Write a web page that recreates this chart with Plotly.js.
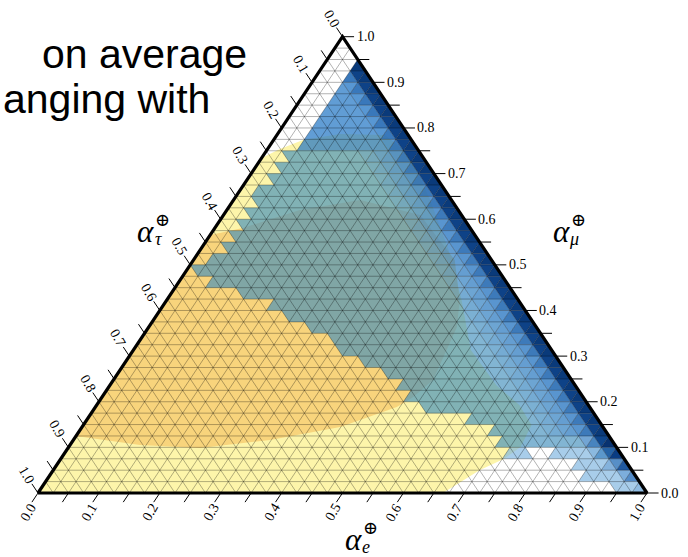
<!DOCTYPE html>
<html><head><meta charset="utf-8">
<script src="https://cdn.plot.ly/plotly-3.0.1.min.js"></script>
<style>body{margin:0;background:#fff}#chart{width:688px;height:557px}</style>
</head><body><div id="chart"></div>
<script>
// ---------------- data ----------------
const N = 40;                       // grid divisions per side
const majorTicks = [0,0.1,0.2,0.3,0.4,0.5,0.6,0.7,0.8,0.9,1.0];
const tickLabels = ['0.0','0.1','0.2','0.3','0.4','0.5','0.6','0.7','0.8','0.9','1.0'];
const minorTicks = [0.05,0.15,0.25,0.35,0.45,0.55,0.65,0.75,0.85,0.95];
const titleLines = ['on average','anging with'];
// smooth pale-yellow region (alpha_e, alpha_mu)
const paleE  = [0,0.0204,0.0483,0.1025,0.1775,0.2404,0.323,0.408,0.484,0.554,0.634,0.694,0.736,0.742,0.728,0.700,0.665,0];
const paleMu = [0.7342,0.7539,0.7736,0.7868,0.7846,0.7407,0.6421,0.5325,0.423,0.3134,0.2367,0.1929,0.149,0.1008,0.075,0.05,0,0];
// smooth orange region (alpha_e, alpha_mu)
const orangeE  = [0,0.046,0.120,0.208,0.323,0.429,0.481,0.506,0.525,0.511,0.495,0.424,0.323,0.217,0.115,0.0125,0];
const orangeMu = [0.5654,0.5808,0.6202,0.6421,0.6093,0.5106,0.4230,0.3638,0.2476,0.2104,0.1885,0.1446,0.1162,0.0986,0.1052,0.1227,0.1227];
// blue cells: first filled triangle index in each row (row 0 = bottom, alpha_mu from r/N)
const blueStart = [75,70,68,58,56,54,50,43,40,38,35,31,27,25,21,17,14,9,4,1,
                   2,3,3,3,3,3,2,3,3,3,4,4,4,4,4,4,4,4,99,99];
const holeRow = [3,3,3];
const holeK   = [61,62,63];
// blue shade levels, from the right edge inwards
const shadesBottom = [
  ['rgba(95,160,215,0.7)','rgba(122,178,222,0.65)'],
  ['rgba(40,110,185,0.8)','rgba(70,140,205,0.7)','rgba(122,178,222,0.65)'],
  ['rgba(20,80,155,0.95)','rgba(45,115,185,0.8)','rgba(80,145,205,0.7)','rgba(122,178,222,0.65)'],
  ['rgba(10,60,130,1)','rgba(25,90,160,0.95)','rgba(50,125,190,0.8)','rgba(90,155,210,0.7)','rgba(122,178,222,0.65)'],
  ['rgba(8,50,112,1)','rgba(15,70,140,1)','rgba(40,110,180,0.85)','rgba(60,130,195,0.72)','rgba(63,141,187,0.65)']
];
const shadesMain = ['rgba(10,58,122,1)','rgba(14,66,135,1)','rgba(40,108,178,0.9)','rgba(48,122,195,0.8)',
                    'rgba(52,128,195,0.76)','rgba(55,132,194,0.73)','rgba(58,136,192,0.7)','rgba(60,138,190,0.68)','rgba(63,141,187,0.65)'];
const shadesTop  = ['rgba(10,58,122,1)','rgba(14,66,135,1)','rgba(35,105,180,0.9)','rgba(30,115,195,0.74)','rgba(30,115,195,0.7)'];
const topFromRow = 30;

// ---------------- geometry helpers ----------------
const W = 688, H = 557, X0 = 38, X1 = 647, YB = 493, YT = 36.7;
const SX = X1 - X0, SY = YB - YT;
const tx = (e, mu) => e + mu / 2;      // ternary -> cartesian x
const ty = (e, mu) => mu;              // ternary -> cartesian y
const px2x = p => (p - X0) / SX;
const py2y = p => (YB - p) / SY;

const traces = [];
function region(E, M, color) {
  traces.push({type:'scatter', mode:'lines', x:E.map((e,i)=>tx(e,M[i])), y:E.map((e,i)=>ty(e,M[i])),
    fill:'toself', fillcolor:color, line:{width:0, color:color}, hoverinfo:'skip', showlegend:false});
}
region(paleE, paleMu, '#fdf5aa');
region(orangeE, orangeMu, '#f8d47c');

// blue cells
const groups = {};
for (let r = 0; r < N; r++) {
  const K = 2 * (N - r) - 1;
  for (let k = blueStart[r]; k < K; k++) {
    let hole = false;
    for (let h = 0; h < holeRow.length; h++) if (holeRow[h] === r && holeK[h] === k) hole = true;
    if (hole) continue;
    const d = K - 1 - k;
    const sh = r < shadesBottom.length ? shadesBottom[r] : (r >= topFromRow ? shadesTop : shadesMain);
    const col = sh[Math.min(d, sh.length - 1)];
    let v;
    if (k % 2 === 0) { const j = k / 2; v = [[j, r], [j + 1, r], [j, r + 1]]; }
    else { const j = (k - 1) / 2; v = [[j + 1, r], [j, r + 1], [j + 1, r + 1]]; }
    if (!groups[col]) groups[col] = {x: [], y: []};
    const g = groups[col];
    v.forEach(p => { g.x.push(tx(p[0] / N, p[1] / N)); g.y.push(ty(p[0] / N, p[1] / N)); });
    g.x.push(tx(v[0][0] / N, v[0][1] / N)); g.y.push(ty(v[0][0] / N, v[0][1] / N));
    g.x.push(null); g.y.push(null);
  }
}
Object.keys(groups).forEach(col => {
  traces.push({type:'scatter', mode:'lines', x:groups[col].x, y:groups[col].y, fill:'toself',
    fillcolor:col, line:{width:0, color:col}, hoverinfo:'skip', showlegend:false, connectgaps:false});
});

// grid
const gx = [], gy = [];
for (let i = 1; i < N; i++) {
  const f = i / N;
  gx.push(tx(0, f), tx(1 - f, f), null); gy.push(ty(0, f), ty(1 - f, f), null);
  gx.push(tx(f, 0), tx(f, 1 - f), null); gy.push(ty(f, 0), ty(f, 1 - f), null);
  gx.push(tx(1 - f, 0), tx(0, 1 - f), null); gy.push(ty(1 - f, 0), ty(0, 1 - f), null);
}
traces.push({type:'scatter', mode:'lines', x:gx, y:gy, line:{color:'rgba(0,0,0,0.3)', width:1}, hoverinfo:'skip', showlegend:false});

// ticks
const allTicks = majorTicks.concat(minorTicks);
const kx = [], ky = [];
const dl = 0.02;
allTicks.forEach(v => {
  kx.push(tx(v, 0), tx(v, 0) - dl / 2, null); ky.push(0, -dl, null);
  kx.push(tx(1 - v, v), tx(1 - v, v) + dl * 0.95, null); ky.push(v, v, null);
  kx.push(tx(0, 1 - v), tx(0, 1 - v) - dl / 2, null); ky.push(1 - v, 1 - v + dl, null);
});
traces.push({type:'scatter', mode:'lines', x:kx, y:ky, line:{color:'#000', width:1}, hoverinfo:'skip', showlegend:false});

// outline
traces.push({type:'scatter', mode:'lines', x:[0,1,0.5,0], y:[0,0,1,0], line:{color:'#000', width:3.2}, hoverinfo:'skip', showlegend:false});

// annotations
const ann = [];
const lf = {family:'Liberation Serif, DejaVu Serif, serif', size:14, color:'#000'};
majorTicks.forEach((v, i) => {
  const bx = X0 + SX * v, by = YB;
  ann.push({x:px2x(bx - 10), y:py2y(by + 19), text:tickLabels[i], textangle:-60, showarrow:false, font:lf, xanchor:'center', yanchor:'middle'});
  const rx = X1 - SX / 2 * v, ry = YB - SY * v;
  ann.push({x:px2x(rx + 12), y:py2y(ry), text:tickLabels[i], showarrow:false, font:lf, xanchor:'left', yanchor:'middle'});
  const lx = X0 + SX / 2 * (1 - v), ly = YB - SY * (1 - v);
  ann.push({x:px2x(lx - 11), y:py2y(ly - 18), text:tickLabels[i], textangle:60, showarrow:false, font:lf, xanchor:'center', yanchor:'middle'});
});
const af = {family:'Liberation Serif, DejaVu Serif, serif', size:31, color:'#000'};
const sf = {family:'Liberation Serif, DejaVu Serif, serif', size:18, color:'#000'};
function axTitle(ax, ay, sub) {
  ann.push({x:px2x(ax), y:py2y(ay), text:'<i>α</i>', showarrow:false, font:af, xanchor:'center', yanchor:'middle'});
  ann.push({x:px2x(ax + 17), y:py2y(ay - 11), text:'⊕', showarrow:false, font:sf, xanchor:'center', yanchor:'middle'});
  ann.push({x:px2x(ax + 13), y:py2y(ay + 8), text:'<i>' + sub + '</i>', showarrow:false, font:sf, xanchor:'center', yanchor:'middle'});
}
axTitle(145, 231, 'τ');
axTitle(561, 231, 'μ');
axTitle(353, 539, 'e');
const tf = {family:'Liberation Sans, Arial, sans-serif', size:41, color:'#000'};
ann.push({xref:'paper', yref:'paper', x:40 / W, y:1 - 54 / H, text:titleLines[0], showarrow:false, font:tf, xanchor:'left', yanchor:'middle'});
ann.push({xref:'paper', yref:'paper', x:0, xshift:1, y:1 - 99 / H, text:titleLines[1], showarrow:false, font:tf, xanchor:'left', yanchor:'middle'});

const layout = {
  width:W, height:H, margin:{l:0,r:0,t:0,b:0}, paper_bgcolor:'#fff', plot_bgcolor:'#fff', showlegend:false,
  xaxis:{range:[px2x(0), px2x(W)], visible:false, fixedrange:true},
  yaxis:{range:[py2y(H), py2y(0)], visible:false, fixedrange:true},
  annotations:ann
};
Plotly.newPlot('chart', traces, layout, {staticPlot:true, displayModeBar:false});
</script></body></html>
